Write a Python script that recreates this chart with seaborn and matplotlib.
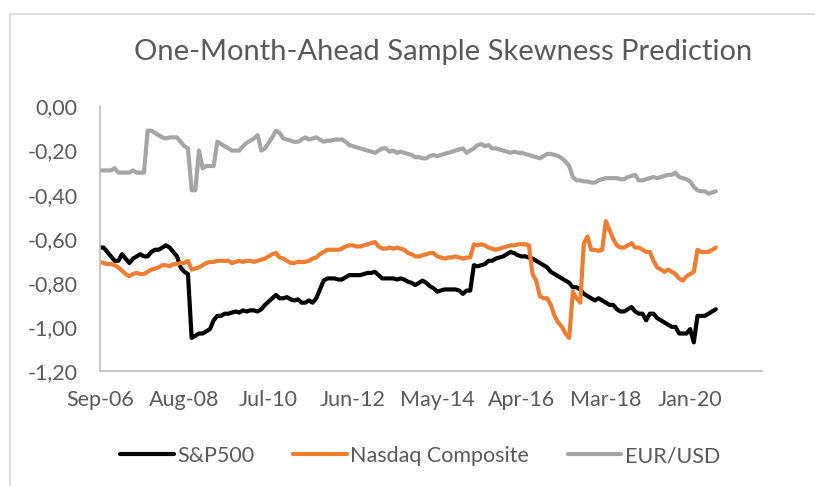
import pandas as pd
import matplotlib
matplotlib.use('Agg')
import matplotlib.pyplot as plt
from matplotlib.ticker import FuncFormatter
from matplotlib.patches import Rectangle
import seaborn as sns

# monthly predictions, Sep-06 onwards
sp500 = [
    -0.64, -0.64, -0.66, -0.68, -0.70, -0.70, -0.67, -0.69, -0.71, -0.69, -0.68, -0.67,
    -0.68, -0.68, -0.66, -0.65, -0.65, -0.64, -0.63, -0.64, -0.66, -0.68, -0.73, -0.75,
    -0.76, -1.05, -1.04, -1.03, -1.03, -1.02, -1.01, -0.97, -0.95, -0.95, -0.94, -0.94,
    -0.935, -0.93, -0.935, -0.925, -0.93, -0.925, -0.925, -0.93, -0.92, -0.90, -0.885, -0.87,
    -0.855, -0.87, -0.87, -0.865, -0.875, -0.88, -0.875, -0.89, -0.89, -0.88, -0.89, -0.87,
    -0.83, -0.79, -0.78, -0.78, -0.78, -0.785, -0.785, -0.775, -0.765, -0.765, -0.765, -0.765,
    -0.76, -0.755, -0.755, -0.75, -0.765, -0.78, -0.78, -0.78, -0.78, -0.785, -0.78, -0.785,
    -0.795, -0.80, -0.81, -0.80, -0.79, -0.80, -0.815, -0.825, -0.84, -0.835, -0.83, -0.83,
    -0.83, -0.83, -0.835, -0.85, -0.835, -0.835, -0.72, -0.725, -0.72, -0.715, -0.70, -0.70,
    -0.69, -0.685, -0.68, -0.67, -0.66, -0.665, -0.675, -0.68, -0.68, -0.685, -0.69, -0.70,
    -0.71, -0.72, -0.73, -0.75, -0.76, -0.77, -0.78, -0.79, -0.80, -0.82, -0.82, -0.83,
    -0.85, -0.86, -0.87, -0.88, -0.87, -0.88, -0.89, -0.90, -0.90, -0.92, -0.93, -0.93,
    -0.92, -0.91, -0.93, -0.94, -0.94, -0.97, -0.94, -0.94, -0.96, -0.97, -0.98, -0.99,
    -1.00, -1.00, -1.03, -1.03, -1.03, -1.01, -1.07, -0.95, -0.95, -0.95, -0.94, -0.93, -0.92,
]

nasdaq = [
    -0.705, -0.71, -0.715, -0.715, -0.72, -0.73, -0.745, -0.76, -0.77, -0.76, -0.755, -0.76,
    -0.76, -0.75, -0.74, -0.735, -0.73, -0.72, -0.72, -0.725, -0.715, -0.715, -0.71, -0.71,
    -0.70, -0.74, -0.735, -0.73, -0.72, -0.71, -0.705, -0.705, -0.70, -0.70, -0.70, -0.70,
    -0.71, -0.705, -0.70, -0.705, -0.70, -0.70, -0.705, -0.70, -0.695, -0.69, -0.68, -0.67,
    -0.665, -0.685, -0.69, -0.70, -0.71, -0.71, -0.705, -0.705, -0.705, -0.70, -0.69, -0.685,
    -0.67, -0.66, -0.65, -0.65, -0.65, -0.65, -0.645, -0.635, -0.63, -0.63, -0.635, -0.635,
    -0.63, -0.625, -0.62, -0.615, -0.635, -0.645, -0.645, -0.64, -0.645, -0.64, -0.645, -0.65,
    -0.665, -0.67, -0.68, -0.68, -0.675, -0.67, -0.665, -0.665, -0.68, -0.685, -0.69, -0.685,
    -0.685, -0.68, -0.685, -0.69, -0.685, -0.685, -0.625, -0.63, -0.625, -0.63, -0.64, -0.645,
    -0.65, -0.645, -0.64, -0.635, -0.63, -0.63, -0.625, -0.625, -0.625, -0.63, -0.76, -0.79,
    -0.86, -0.87, -0.87, -0.90, -0.95, -0.98, -1.00, -1.03, -1.05, -0.84, -0.87, -0.89,
    -0.62, -0.59, -0.65, -0.65, -0.655, -0.65, -0.52, -0.56, -0.60, -0.63, -0.64, -0.64,
    -0.63, -0.62, -0.64, -0.64, -0.65, -0.66, -0.66, -0.70, -0.73, -0.74, -0.75, -0.74,
    -0.75, -0.76, -0.78, -0.79, -0.77, -0.76, -0.75, -0.65, -0.66, -0.66, -0.66, -0.65, -0.64,
]

eurusd = [
    -0.29, -0.29, -0.29, -0.29, -0.28, -0.30, -0.30, -0.30, -0.30, -0.29, -0.30, -0.30,
    -0.30, -0.11, -0.11, -0.12, -0.13, -0.14, -0.145, -0.14, -0.14, -0.14, -0.16, -0.18,
    -0.19, -0.38, -0.38, -0.20, -0.28, -0.27, -0.27, -0.27, -0.16, -0.17, -0.18, -0.19,
    -0.20, -0.20, -0.20, -0.18, -0.165, -0.155, -0.145, -0.13, -0.20, -0.19, -0.165, -0.14,
    -0.11, -0.12, -0.145, -0.15, -0.155, -0.16, -0.16, -0.15, -0.14, -0.15, -0.145, -0.14,
    -0.15, -0.16, -0.155, -0.155, -0.15, -0.15, -0.15, -0.16, -0.175, -0.18, -0.185, -0.19,
    -0.195, -0.20, -0.205, -0.21, -0.20, -0.19, -0.19, -0.205, -0.20, -0.21, -0.205, -0.21,
    -0.215, -0.22, -0.23, -0.23, -0.235, -0.235, -0.225, -0.22, -0.225, -0.22, -0.215, -0.21,
    -0.205, -0.20, -0.195, -0.19, -0.21, -0.20, -0.19, -0.175, -0.17, -0.18, -0.175, -0.19,
    -0.19, -0.195, -0.20, -0.205, -0.21, -0.205, -0.21, -0.21, -0.215, -0.22, -0.225, -0.23,
    -0.235, -0.225, -0.215, -0.215, -0.22, -0.225, -0.235, -0.25, -0.27, -0.32, -0.335, -0.335,
    -0.34, -0.34, -0.345, -0.345, -0.335, -0.33, -0.325, -0.325, -0.325, -0.325, -0.33, -0.33,
    -0.32, -0.315, -0.31, -0.335, -0.335, -0.33, -0.325, -0.32, -0.325, -0.32, -0.315, -0.31,
    -0.31, -0.30, -0.32, -0.325, -0.33, -0.34, -0.365, -0.38, -0.385, -0.385, -0.395, -0.39, -0.385,
]

series_names = ['S&P500', 'Nasdaq Composite', 'EUR/USD']
tick_labels = ['Sep-06', 'Aug-08', 'Jul-10', 'Jun-12', 'May-14', 'Apr-16', 'Mar-18', 'Jan-20']
y_ticks = [0.0, -0.2, -0.4, -0.6, -0.8, -1.0, -1.2]

df = pd.DataFrame({'S&P500': sp500, 'Nasdaq Composite': nasdaq, 'EUR/USD': eurusd})
df['month'] = range(len(df))
long_df = df.melt(id_vars='month', var_name='series', value_name='value')

sns.set_style('white')
plt.rcParams['font.family'] = ['Lato', 'DejaVu Sans']
grey_txt = '#595959'

fig = plt.figure(figsize=(8.15, 4.86), dpi=100)
ax = fig.add_axes([100 / 815, 1 - 371 / 486, 662 / 815, 264.5 / 486])

palette = {'S&P500': '#000000', 'Nasdaq Composite': '#ED7D31', 'EUR/USD': '#A5A5A5'}
sns.lineplot(data=long_df, x='month', y='value', hue='series', hue_order=series_names,
             palette=palette, linewidth=3.0, ax=ax, legend=False)

# axes look like excel defaults
ax.set_xlim(0, 180.6)
ax.set_ylim(-1.2, 0.0)
ax.set_xticks(range(0, 23 * len(tick_labels), 23))
ax.set_xticklabels(tick_labels)
ax.set_yticks(y_ticks)
ax.yaxis.set_major_formatter(FuncFormatter(lambda v, p: f'{v:.2f}'.replace('.', ',')))
ax.set_xlabel('')
ax.set_ylabel('')
for side in ['top', 'right']:
    ax.spines[side].set_visible(False)
for side in ['left', 'bottom']:
    ax.spines[side].set_color('#BFBFBF')
    ax.spines[side].set_linewidth(1.2)
ax.tick_params(axis='both', length=0, labelsize=15.5, colors=grey_txt)
ax.tick_params(axis='y', pad=16)
ax.tick_params(axis='x', pad=14)

fig.text(443 / 815, 1 - 52 / 486, 'One-Month-Ahead Sample Skewness Prediction',
         ha='center', va='center', fontsize=21, color=grey_txt, fontweight='normal')

fig.legend(handles=ax.lines[:3], labels=series_names, loc='center',
           bbox_to_anchor=(420 / 815, 1 - 456 / 486), ncol=3, frameon=False,
           fontsize=15.5, labelcolor=grey_txt, handlelength=2.5, handletextpad=0.15,
           columnspacing=1.8)

# chart area border (left and top visible)
fig.add_artist(Rectangle((10 / 815, -0.1), 1.0, 1.1 - 14 / 486, transform=fig.transFigure,
                         fill=False, edgecolor='#D9D9D9', linewidth=1.2))

fig.savefig('out.png', dpi=100)
